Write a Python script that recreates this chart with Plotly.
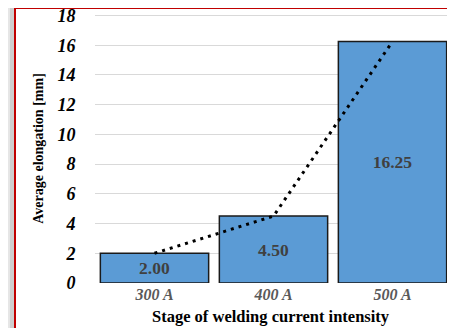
import plotly.graph_objects as go

categories = ["300 A", "400 A", "500 A"]
elongation = [2.00, 4.50, 16.25]
labels = ["2.00", "4.50", "16.25"]
y_ticks = [0, 2, 4, 6, 8, 10, 12, 14, 16, 18]

# page body has an 8px margin, so the figure is drawn 8px in from the top-left
OFF = 8
W, H = 455 - OFF, 328 - OFF
ml, mr, mt, mb = 87, 3, 6, 45
pw, ph = W - ml - mr, H - mt - mb

def px_x(px):
    return (px - OFF - ml) / pw

def px_y(py):
    return (H - mb - (py - OFF)) / ph

serif = "Liberation Serif, Times New Roman, serif"

fig = go.Figure()
fig.add_trace(go.Bar(
    x=categories, y=elongation, text=labels,
    textposition="inside", insidetextanchor="middle",
    textfont=dict(family=serif, size=17.5, color="#404040", weight="bold"),
    marker=dict(color="#5B9BD5", line=dict(color="#1a1a1a", width=1.5)),
    showlegend=False, hoverinfo="skip",
))
fig.add_trace(go.Scatter(
    x=categories, y=elongation, mode="lines",
    line=dict(color="black", width=3, dash="3px,5px"),
    showlegend=False, hoverinfo="skip",
))

shapes = [
    dict(type="rect", xref="paper", yref="paper", layer="below",
         x0=px_x(0), x1=px_x(470), y0=px_y(340), y1=px_y(0),
         fillcolor="#e6e6e6", line=dict(width=0)),
    dict(type="rect", xref="paper", yref="paper", layer="below",
         x0=px_x(10), x1=px_x(470), y0=px_y(340), y1=px_y(4),
         fillcolor="#cfcfcf", line=dict(width=0)),
    dict(type="rect", xref="paper", yref="paper", layer="below",
         x0=px_x(15), x1=px_x(480), y0=px_y(350), y1=px_y(8),
         fillcolor="white", line=dict(color="#C00000", width=2)),
]

fig.update_layout(
    width=W, height=H,
    margin=dict(l=ml, r=mr, t=mt, b=mb),
    paper_bgcolor="white", plot_bgcolor="rgba(0,0,0,0)",
    bargap=0.09,
    shapes=shapes,
    xaxis=dict(
        automargin=False,
        showgrid=False, showline=False, zeroline=False,
        tickfont=dict(family=serif, size=16, color="#595959", weight="bold", style="italic"),
        ticks="", ticklabelstandoff=0,
    ),
    yaxis=dict(
        automargin=False,
        range=[0, 18.1], tickvals=y_ticks,
        showgrid=True, gridcolor="#d9d9d9", gridwidth=1,
        zeroline=False, showline=False,
        ticklabeloverflow="allow",
        tickfont=dict(family=serif, size=18, color="black", weight="bold", style="italic"),
        ticks="outside", ticklen=15, tickcolor="rgba(0,0,0,0)",
        title=dict(text="Average elongation [mm]",
                   font=dict(family=serif, size=14, color="black", weight="bold"),
                   standoff=10),
    ),
    annotations=[dict(
        text="Stage of welding current intensity",
        xref="paper", yref="paper", x=px_x(271), y=px_y(316),
        xanchor="center", yanchor="middle", showarrow=False,
        font=dict(family=serif, size=16.5, color="black", weight="bold"),
    )],
)

fig.write_html("out.html")
